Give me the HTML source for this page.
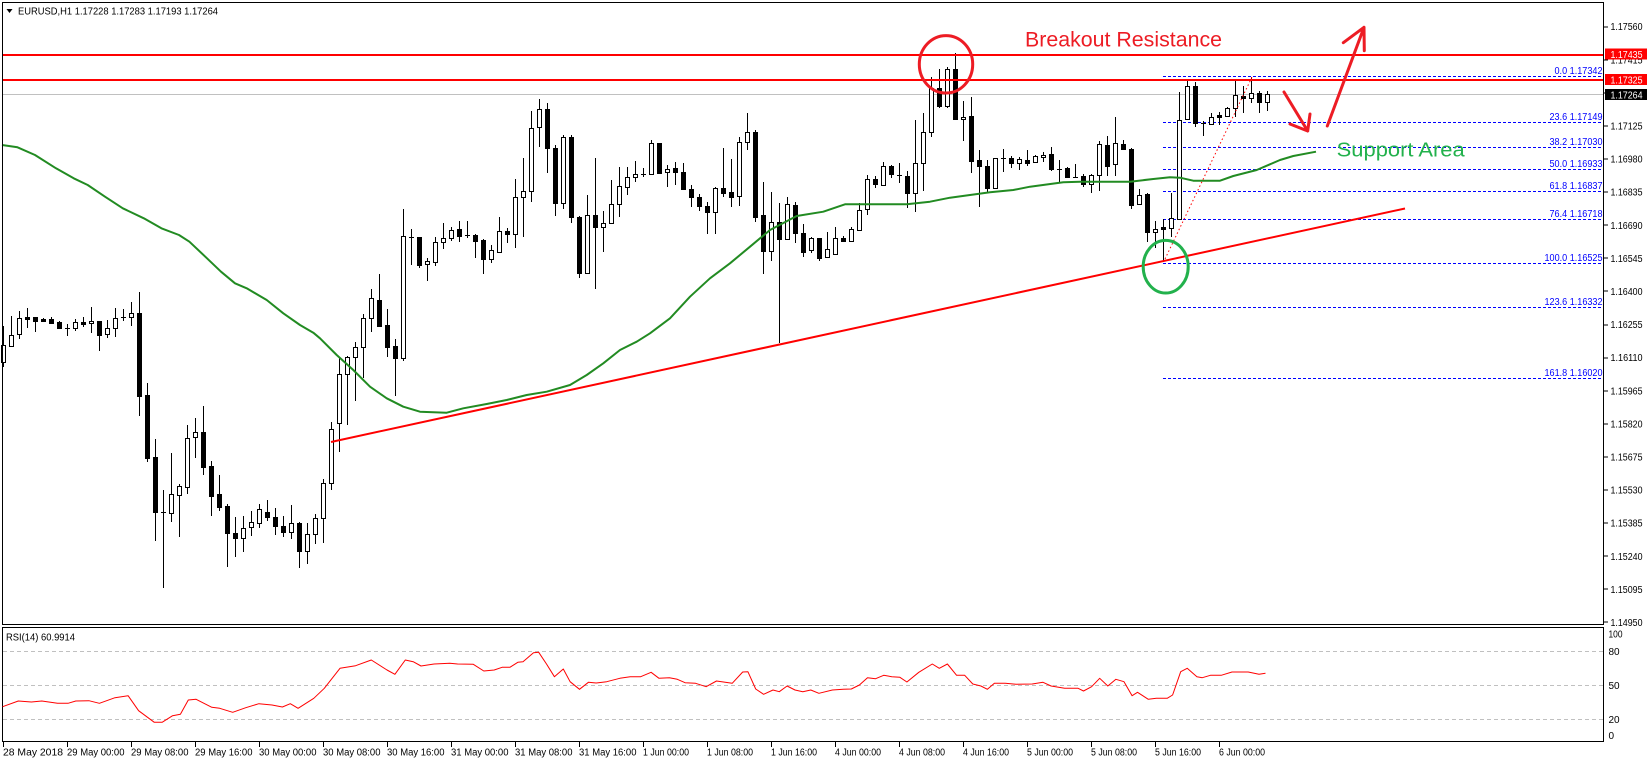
<!DOCTYPE html>
<html><head><meta charset="utf-8"><style>
html,body{margin:0;padding:0;background:#fff;}
svg{display:block;font-family:"Liberation Sans",sans-serif;}
</style></head><body>
<svg width="1647" height="763" viewBox="0 0 1647 763" xmlns="http://www.w3.org/2000/svg">
<rect x="0" y="0" width="1647" height="763" fill="#fff"/>
<!-- current price line -->
<line x1="2" y1="94.5" x2="1604" y2="94.5" stroke="#c0c0c0" stroke-width="1"/>
<!-- fib levels -->
<g stroke="#0000ff" stroke-width="1" stroke-dasharray="3,2">
<line x1="1163" y1="76.5" x2="1604" y2="76.5"/>
<line x1="1163" y1="122.5" x2="1604" y2="122.5"/>
<line x1="1163" y1="147.5" x2="1604" y2="147.5"/>
<line x1="1163" y1="169.5" x2="1604" y2="169.5"/>
<line x1="1163" y1="191.5" x2="1604" y2="191.5"/>
<line x1="1163" y1="219.5" x2="1604" y2="219.5"/>
<line x1="1163" y1="263.5" x2="1604" y2="263.5"/>
<line x1="1163" y1="307.5" x2="1604" y2="307.5"/>
<line x1="1163" y1="378.5" x2="1604" y2="378.5"/>
</g>
<g fill="#0000ff" font-size="10" text-anchor="end" lengthAdjust="spacingAndGlyphs">
<text x="1602.5" y="74" textLength="48" lengthAdjust="spacingAndGlyphs">0.0 1.17342</text>
<text x="1602.5" y="120" textLength="53" lengthAdjust="spacingAndGlyphs">23.6 1.17149</text>
<text x="1602.5" y="145" textLength="53" lengthAdjust="spacingAndGlyphs">38.2 1.17030</text>
<text x="1602.5" y="167" textLength="53" lengthAdjust="spacingAndGlyphs">50.0 1.16933</text>
<text x="1602.5" y="189" textLength="53" lengthAdjust="spacingAndGlyphs">61.8 1.16837</text>
<text x="1602.5" y="217" textLength="53" lengthAdjust="spacingAndGlyphs">76.4 1.16718</text>
<text x="1602.5" y="261" textLength="58" lengthAdjust="spacingAndGlyphs">100.0 1.16525</text>
<text x="1602.5" y="305" textLength="58" lengthAdjust="spacingAndGlyphs">123.6 1.16332</text>
<text x="1602.5" y="376" textLength="58" lengthAdjust="spacingAndGlyphs">161.8 1.16020</text>
</g>
<!-- candles -->
<g shape-rendering="crispEdges">
<path fill="none" stroke="#000" stroke-width="1" d="M3.5 326V367M11.5 316V347M19.5 311V339M27.5 308V328M35.5 317V332M43.5 318V322M51.5 317V323M59.5 321V329M67.5 324V336M75.5 319V331M83.5 317V327M91.5 307V333M99.5 321V351M107.5 320V338M115.5 308V337M123.5 309V321M131.5 302V326M139.5 292V416M147.5 383V462M155.5 439V541M163.5 490V588M171.5 453V522M179.5 484V537M187.5 425V494M195.5 418V458M203.5 406V475M211.5 461V516M219.5 475V511M227.5 504V567M235.5 517V557M243.5 516V552M251.5 511V536M259.5 504V528M267.5 500V521M275.5 508V535M283.5 516V537M291.5 505V539M299.5 522V568M307.5 523V564M315.5 514V544M323.5 479V543M331.5 422V490M339.5 357V452M347.5 356V425M355.5 342V401M363.5 314V378M371.5 289V332M379.5 274V327M387.5 309V357M395.5 339V396M403.5 209V361M411.5 229V265M419.5 237V268M427.5 258V281M435.5 237V266M443.5 223V249M451.5 227V241M459.5 221V242M467.5 221V238M475.5 234V258M483.5 239V274M491.5 245V263M499.5 217V253M507.5 228V243M515.5 179V248M523.5 158V237M531.5 111V202M539.5 99V147M547.5 103V173M555.5 145V216M563.5 135V209M571.5 135V223M579.5 216V278M587.5 195V273M595.5 158V289M603.5 211V252M611.5 180V223M619.5 167V217M627.5 167V195M635.5 161V182M643.5 168V177M651.5 140V175M659.5 143V174M667.5 165V187M675.5 162V185M683.5 163V190M691.5 185V207M699.5 194V211M707.5 202V234M715.5 187V234M723.5 148V197M731.5 159V207M739.5 137V206M747.5 113V150M755.5 130V222M763.5 182V274M771.5 192V261M779.5 203V343M787.5 197V240M795.5 202V243M803.5 224V257M811.5 237V253M819.5 238V261M827.5 232V258M835.5 227V255M843.5 236V242M851.5 227V242M859.5 203V231M867.5 175V215M875.5 176V188M883.5 162V186M891.5 165V178M899.5 163V183M907.5 171V208M915.5 120V212M923.5 113V191M931.5 77V137M939.5 69V108M947.5 67V108M955.5 53V119M963.5 101V141M971.5 97V173M979.5 150V207M987.5 160V192M995.5 158V189M1003.5 149V172M1011.5 156V168M1019.5 157V170M1027.5 150V166M1035.5 155V163M1043.5 152V162M1051.5 147V171M1059.5 160V182M1067.5 167V178M1075.5 164V178M1083.5 174V187M1091.5 174V193M1099.5 141V191M1107.5 136V176M1115.5 117V176M1123.5 140V150M1131.5 148V209M1139.5 189V205M1147.5 193V242M1155.5 221V248M1163.5 219V262M1171.5 193V237M1179.5 92V220M1187.5 81V120M1195.5 82V127M1203.5 121V136M1211.5 113V125M1219.5 112V125M1227.5 107V117M1235.5 81V117M1243.5 86V113M1251.5 77V103M1259.5 91V113M1267.5 91V111"/>
<path fill="#fff" stroke="#000" stroke-width="1" d="M1.5 345.5h4V362.5h-4ZM9.5 335.5h4V346.5h-4ZM17.5 318.5h4V334.5h-4ZM73.5 322.5h4V328.5h-4ZM89.5 321.5h4V323.5h-4ZM105.5 328.5h4V334.5h-4ZM113.5 318.5h4V328.5h-4ZM129.5 313.5h4V317.5h-4ZM169.5 494.5h4V513.5h-4ZM177.5 486.5h4V495.5h-4ZM185.5 438.5h4V487.5h-4ZM193.5 432.5h4V437.5h-4ZM241.5 528.5h4V538.5h-4ZM249.5 522.5h4V527.5h-4ZM257.5 509.5h4V523.5h-4ZM289.5 523.5h4V532.5h-4ZM305.5 534.5h4V551.5h-4ZM313.5 518.5h4V534.5h-4ZM321.5 483.5h4V518.5h-4ZM329.5 429.5h4V483.5h-4ZM337.5 374.5h4V423.5h-4ZM345.5 357.5h4V374.5h-4ZM353.5 347.5h4V357.5h-4ZM361.5 318.5h4V347.5h-4ZM369.5 298.5h4V318.5h-4ZM401.5 236.5h4V358.5h-4ZM425.5 261.5h4V264.5h-4ZM433.5 242.5h4V262.5h-4ZM441.5 238.5h4V242.5h-4ZM449.5 230.5h4V238.5h-4ZM489.5 250.5h4V259.5h-4ZM497.5 231.5h4V252.5h-4ZM513.5 197.5h4V234.5h-4ZM521.5 191.5h4V197.5h-4ZM529.5 128.5h4V191.5h-4ZM537.5 109.5h4V127.5h-4ZM561.5 137.5h4V203.5h-4ZM585.5 215.5h4V273.5h-4ZM601.5 223.5h4V227.5h-4ZM609.5 204.5h4V223.5h-4ZM617.5 186.5h4V204.5h-4ZM625.5 177.5h4V187.5h-4ZM633.5 174.5h4V177.5h-4ZM649.5 143.5h4V174.5h-4ZM665.5 169.5h4V172.5h-4ZM713.5 188.5h4V212.5h-4ZM737.5 142.5h4V196.5h-4ZM745.5 132.5h4V142.5h-4ZM769.5 222.5h4V251.5h-4ZM785.5 204.5h4V239.5h-4ZM809.5 238.5h4V250.5h-4ZM825.5 249.5h4V257.5h-4ZM833.5 238.5h4V254.5h-4ZM849.5 229.5h4V241.5h-4ZM857.5 210.5h4V230.5h-4ZM865.5 179.5h4V209.5h-4ZM881.5 166.5h4V185.5h-4ZM913.5 163.5h4V193.5h-4ZM921.5 132.5h4V163.5h-4ZM929.5 88.5h4V132.5h-4ZM945.5 69.5h4V106.5h-4ZM961.5 117.5h4V119.5h-4ZM993.5 158.5h4V188.5h-4ZM1017.5 159.5h4V163.5h-4ZM1033.5 156.5h4V162.5h-4ZM1041.5 155.5h4V157.5h-4ZM1089.5 175.5h4V184.5h-4ZM1097.5 144.5h4V175.5h-4ZM1113.5 143.5h4V164.5h-4ZM1137.5 195.5h4V204.5h-4ZM1153.5 229.5h4V232.5h-4ZM1169.5 218.5h4V228.5h-4ZM1177.5 120.5h4V219.5h-4ZM1185.5 86.5h4V119.5h-4ZM1209.5 117.5h4V124.5h-4ZM1225.5 108.5h4V116.5h-4ZM1233.5 95.5h4V108.5h-4ZM1249.5 93.5h4V98.5h-4ZM1265.5 94.5h4V102.5h-4Z"/>
<path fill="#000" stroke="#000" stroke-width="1" d="M25.5 317.5h4V319.5h-4ZM33.5 317.5h4V321.5h-4ZM41.5 319.5h4V321.5h-4ZM49.5 319.5h4V323.5h-4ZM57.5 322.5h4V328.5h-4ZM81.5 322.5h4V324.5h-4ZM97.5 321.5h4V335.5h-4ZM137.5 313.5h4V396.5h-4ZM145.5 395.5h4V458.5h-4ZM153.5 457.5h4V512.5h-4ZM201.5 432.5h4V467.5h-4ZM209.5 466.5h4V496.5h-4ZM217.5 494.5h4V507.5h-4ZM225.5 506.5h4V533.5h-4ZM233.5 533.5h4V538.5h-4ZM265.5 512.5h4V517.5h-4ZM273.5 517.5h4V526.5h-4ZM281.5 526.5h4V532.5h-4ZM297.5 523.5h4V551.5h-4ZM377.5 300.5h4V326.5h-4ZM385.5 325.5h4V347.5h-4ZM393.5 346.5h4V358.5h-4ZM417.5 237.5h4V265.5h-4ZM457.5 229.5h4V236.5h-4ZM473.5 235.5h4V241.5h-4ZM481.5 240.5h4V259.5h-4ZM505.5 231.5h4V234.5h-4ZM545.5 109.5h4V148.5h-4ZM553.5 148.5h4V203.5h-4ZM569.5 137.5h4V217.5h-4ZM577.5 217.5h4V273.5h-4ZM593.5 215.5h4V227.5h-4ZM657.5 143.5h4V173.5h-4ZM673.5 168.5h4V172.5h-4ZM681.5 172.5h4V189.5h-4ZM689.5 189.5h4V197.5h-4ZM697.5 197.5h4V206.5h-4ZM705.5 206.5h4V212.5h-4ZM721.5 188.5h4V193.5h-4ZM729.5 192.5h4V197.5h-4ZM753.5 132.5h4V217.5h-4ZM761.5 215.5h4V251.5h-4ZM777.5 222.5h4V239.5h-4ZM793.5 205.5h4V233.5h-4ZM801.5 233.5h4V252.5h-4ZM817.5 238.5h4V258.5h-4ZM841.5 238.5h4V241.5h-4ZM873.5 179.5h4V184.5h-4ZM889.5 166.5h4V174.5h-4ZM905.5 176.5h4V193.5h-4ZM937.5 88.5h4V106.5h-4ZM953.5 69.5h4V119.5h-4ZM969.5 116.5h4V161.5h-4ZM977.5 160.5h4V166.5h-4ZM985.5 166.5h4V188.5h-4ZM1009.5 158.5h4V163.5h-4ZM1025.5 160.5h4V163.5h-4ZM1049.5 154.5h4V169.5h-4ZM1065.5 168.5h4V177.5h-4ZM1081.5 176.5h4V184.5h-4ZM1105.5 145.5h4V166.5h-4ZM1121.5 144.5h4V149.5h-4ZM1129.5 149.5h4V205.5h-4ZM1145.5 194.5h4V232.5h-4ZM1161.5 227.5h4V229.5h-4ZM1193.5 86.5h4V123.5h-4ZM1217.5 115.5h4V117.5h-4ZM1241.5 96.5h4V98.5h-4ZM1257.5 93.5h4V102.5h-4Z"/>
<path fill="none" stroke="#000" stroke-width="1" d="M65 328.5h5M121 317.5h5M161 512.5h5M409 237.5h5M465 235.5h5M641 174.5h5M897 175.5h5M1001 158.5h5M1057 169.5h5M1073 177.5h5M1201 123.5h5"/>
</g>
<!-- moving average -->
<polyline fill="none" stroke="#228b22" stroke-width="2" stroke-linejoin="round" points="2,145 17.5,147.3 35,155 56,168.3 73.7,178.3 87.7,185 105,196.7 122.8,208.3 143.8,218.3 161.4,228.3 179,235 189.4,241.7 207,258.3 221,271.7 235,283.3 246.7,288.3 266.7,300 283.3,313.3 300,325 313.3,332.7 320,338.3 336.7,355 353.3,370 370,386.7 386.7,398.3 403.3,406.7 420,411.7 446.7,412.7 463.3,408.3 486.7,404 506.7,400 526.7,395 546.7,391.7 570,385 586.7,375 603.3,363.3 620,350 636.7,341.7 650,333.3 670,318.3 690,296.7 710,278.3 730,263.3 750,246.7 770,230 796.7,216 823.3,211.7 845,204.3 906.7,204.3 930,201.7 950,197.7 970,195 990,192.3 1013.3,190 1030,186.7 1063.3,182.3 1080,181.7 1130,181.7 1153.3,179 1170,177.3 1180,177.7 1193.3,180.7 1220,180.7 1233.3,176 1256.7,170 1280,160 1293.3,156 1316,151.7"/>
<!-- trend line -->
<line x1="331" y1="442" x2="1405" y2="208.5" stroke="#ff0000" stroke-width="2"/>
<!-- dotted fib base -->
<line x1="1165" y1="259" x2="1252" y2="77" stroke="#ff0000" stroke-width="1" stroke-dasharray="1.5,2.5"/>
<!-- horizontal resistance lines -->
<line x1="2" y1="55" x2="1604" y2="55" stroke="#ff0000" stroke-width="2"/>
<line x1="2" y1="80" x2="1604" y2="80" stroke="#ff0000" stroke-width="2"/>
<!-- annotations -->
<ellipse cx="946" cy="64.3" rx="26.7" ry="28.7" fill="none" stroke="#ed1c24" stroke-width="3"/>
<ellipse cx="1165.7" cy="266.7" rx="22.5" ry="26.3" fill="none" stroke="#22b14c" stroke-width="3"/>
<g stroke="#ed1c24" stroke-width="3" fill="none" stroke-linecap="round" stroke-linejoin="round">
<path d="M1284 92L1307.7 131M1290 124L1307.7 131L1310 114"/>
<path d="M1327.3 126L1364 27.3M1343.3 42.7L1364 27.3L1364.3 50.7"/>
</g>
<text x="1025" y="46.7" font-size="21" fill="#ed1c24" textLength="197" lengthAdjust="spacingAndGlyphs">Breakout Resistance</text>
<text x="1336.7" y="156.7" font-size="20" fill="#22b14c" textLength="128" lengthAdjust="spacingAndGlyphs">Support Area</text>
<!-- title -->
<polygon points="6.5,9 12.5,9 9.5,13" fill="#000"/>
<text x="18" y="14.3" font-size="10" fill="#000" textLength="200" lengthAdjust="spacingAndGlyphs">EURUSD,H1  1.17228 1.17283 1.17193 1.17264</text>
<!-- frames -->
<rect x="2.5" y="2.5" width="1601" height="622" fill="none" stroke="#000" stroke-width="1"/>
<rect x="2.5" y="627.5" width="1601" height="114" fill="none" stroke="#000" stroke-width="1"/>
<!-- price axis ticks -->
<g stroke="#000" stroke-width="1">
<path d="M1604 27h4M1604 60h4M1604 93h4M1604 126h4M1604 159h4M1604 192h4M1604 225h4M1604 258h4M1604 291h4M1604 325h4M1604 358h4M1604 391h4M1604 424h4M1604 457h4M1604 490h4M1604 523h4M1604 556h4M1604 589h4M1604 622h4"/>
</g>
<g font-size="10" fill="#000">
<text x="1610.5" y="30.2" textLength="32" lengthAdjust="spacingAndGlyphs">1.17560</text>
<text x="1610.5" y="63.3" textLength="32" lengthAdjust="spacingAndGlyphs">1.17415</text>
<text x="1610.5" y="96.4" textLength="32" lengthAdjust="spacingAndGlyphs">1.17270</text>
<text x="1610.5" y="129.5" textLength="32" lengthAdjust="spacingAndGlyphs">1.17125</text>
<text x="1610.5" y="162.6" textLength="32" lengthAdjust="spacingAndGlyphs">1.16980</text>
<text x="1610.5" y="195.7" textLength="32" lengthAdjust="spacingAndGlyphs">1.16835</text>
<text x="1610.5" y="228.8" textLength="32" lengthAdjust="spacingAndGlyphs">1.16690</text>
<text x="1610.5" y="261.9" textLength="32" lengthAdjust="spacingAndGlyphs">1.16545</text>
<text x="1610.5" y="295" textLength="32" lengthAdjust="spacingAndGlyphs">1.16400</text>
<text x="1610.5" y="328.1" textLength="32" lengthAdjust="spacingAndGlyphs">1.16255</text>
<text x="1610.5" y="361.2" textLength="32" lengthAdjust="spacingAndGlyphs">1.16110</text>
<text x="1610.5" y="394.3" textLength="32" lengthAdjust="spacingAndGlyphs">1.15965</text>
<text x="1610.5" y="427.4" textLength="32" lengthAdjust="spacingAndGlyphs">1.15820</text>
<text x="1610.5" y="460.5" textLength="32" lengthAdjust="spacingAndGlyphs">1.15675</text>
<text x="1610.5" y="493.6" textLength="32" lengthAdjust="spacingAndGlyphs">1.15530</text>
<text x="1610.5" y="526.7" textLength="32" lengthAdjust="spacingAndGlyphs">1.15385</text>
<text x="1610.5" y="559.8" textLength="32" lengthAdjust="spacingAndGlyphs">1.15240</text>
<text x="1610.5" y="592.9" textLength="32" lengthAdjust="spacingAndGlyphs">1.15095</text>
<text x="1610.5" y="626" textLength="32" lengthAdjust="spacingAndGlyphs">1.14950</text>
</g>
<!-- price boxes -->
<rect x="1605" y="48.5" width="42" height="11" fill="#ff0000"/>
<text x="1610.5" y="57.8" font-size="10" fill="#fff" textLength="32" lengthAdjust="spacingAndGlyphs">1.17435</text>
<rect x="1605" y="74" width="42" height="11" fill="#ff0000"/>
<text x="1610.5" y="83.3" font-size="10" fill="#fff" textLength="32" lengthAdjust="spacingAndGlyphs">1.17325</text>
<rect x="1605" y="89" width="42" height="11" fill="#000"/>
<text x="1610.5" y="98.3" font-size="10" fill="#fff" textLength="32" lengthAdjust="spacingAndGlyphs">1.17264</text>
<!-- RSI panel -->
<g stroke="#c0c0c0" stroke-width="1" stroke-dasharray="4,3">
<line x1="3" y1="651.5" x2="1603" y2="651.5"/>
<line x1="3" y1="685.5" x2="1603" y2="685.5"/>
<line x1="3" y1="719.5" x2="1603" y2="719.5"/>
</g>
<polyline fill="none" stroke="#ff0000" stroke-width="1" stroke-linejoin="round" points="2.6,706.7 18.3,701 31.4,702 41.8,701 57.5,703.3 68,703.3 75.8,701 88.9,700.7 99.4,703.3 115,697.7 128.1,695.7 138.6,710.7 154.3,722.3 162.1,722.3 172.6,715.7 180.4,714.3 188.3,700 196.1,699.3 211.8,707.3 219.7,708.3 232.7,712.3 245.8,707.7 258.9,703.7 272,705 282.4,707 290.3,703.7 298.1,708.3 313.8,698.3 324.3,688.3 340,668.3 355.6,665.7 371.3,660 387,670 394.9,674.3 405.3,660 413.2,661.7 421,666 434.1,664 449.8,663.3 457.6,664 473.3,664.3 483.8,671 494.2,670 502.1,667.3 509.9,667.3 517.8,662.3 523,661.7 533.5,652.7 538.7,652.3 546.5,664 554.4,676.7 563.3,669 570.1,681.7 579.5,689.3 588.4,682.3 596.2,683 606.7,681.7 619.8,678.3 630.2,676.7 640.7,676.7 651.1,672.3 659,678.3 669.4,677.7 677.3,679.3 685.1,682.7 695.6,683.3 706.1,686.7 716.5,681 732.2,683.3 742.7,672 747.9,671.7 755.7,689 763.6,694.3 773,690 779.3,691.7 787.1,686 795,690 802.8,691.7 810.8,690 818.9,693.3 832.4,690 843.2,689.3 851.3,689 859.4,685 867.5,677.7 875.6,678.7 883.7,675.3 891.8,676.7 899.9,677.3 906.9,682 918.8,672.3 932.3,664 939.3,668.3 947.4,664 956.6,675.3 964.7,675.3 972.8,684 980.9,686 987.4,689.3 994.4,683.3 1005.2,683.3 1016,684.3 1032.2,684 1043,682.3 1051.1,686 1064.6,688.3 1078.1,688.3 1083.5,691 1091.6,686.7 1099.7,678.3 1107.8,686 1115.9,679.3 1124,681.7 1132.1,695.7 1137.5,692.3 1148.3,699.3 1156.4,698.3 1167.2,698.3 1172.6,695 1180.7,671.7 1187.2,668.3 1196.9,676.7 1202.3,677.7 1210.4,675.3 1221.2,675.3 1232,672 1248.2,672 1259,674.3 1265.5,673.3"/>
<text x="6" y="640.5" font-size="10" fill="#000" textLength="69" lengthAdjust="spacingAndGlyphs">RSI(14) 60.9914</text>
<g font-size="10" fill="#000">
<text x="1608.5" y="637.5" textLength="14" lengthAdjust="spacingAndGlyphs">100</text>
<text x="1608.5" y="655.2">80</text>
<text x="1608.5" y="689.2">50</text>
<text x="1608.5" y="722.8">20</text>
<text x="1608.5" y="739.2">0</text>
</g>
<!-- time axis -->
<path stroke="#000" stroke-width="1" d="M3.5 742v5M67.5 742v5M131.5 742v5M195.5 742v5M259.5 742v5M323.5 742v5M387.5 742v5M451.5 742v5M515.5 742v5M579.5 742v5M643.5 742v5M707.5 742v5M771.5 742v5M835.5 742v5M899.5 742v5M963.5 742v5M1027.5 742v5M1091.5 742v5M1155.5 742v5M1219.5 742v5"/>
<g font-size="10" fill="#000">
<text x="3" y="755.5" textLength="60" lengthAdjust="spacingAndGlyphs">28 May 2018</text>
<text x="67" y="755.5" textLength="57.5" lengthAdjust="spacingAndGlyphs">29 May 00:00</text>
<text x="131" y="755.5" textLength="57.5" lengthAdjust="spacingAndGlyphs">29 May 08:00</text>
<text x="195" y="755.5" textLength="57.5" lengthAdjust="spacingAndGlyphs">29 May 16:00</text>
<text x="259" y="755.5" textLength="57.5" lengthAdjust="spacingAndGlyphs">30 May 00:00</text>
<text x="323" y="755.5" textLength="57.5" lengthAdjust="spacingAndGlyphs">30 May 08:00</text>
<text x="387" y="755.5" textLength="57.5" lengthAdjust="spacingAndGlyphs">30 May 16:00</text>
<text x="451" y="755.5" textLength="57.5" lengthAdjust="spacingAndGlyphs">31 May 00:00</text>
<text x="515" y="755.5" textLength="57.5" lengthAdjust="spacingAndGlyphs">31 May 08:00</text>
<text x="579" y="755.5" textLength="57.5" lengthAdjust="spacingAndGlyphs">31 May 16:00</text>
<text x="643" y="755.5" textLength="46" lengthAdjust="spacingAndGlyphs">1 Jun 00:00</text>
<text x="707" y="755.5" textLength="46" lengthAdjust="spacingAndGlyphs">1 Jun 08:00</text>
<text x="771" y="755.5" textLength="46" lengthAdjust="spacingAndGlyphs">1 Jun 16:00</text>
<text x="835" y="755.5" textLength="46" lengthAdjust="spacingAndGlyphs">4 Jun 00:00</text>
<text x="899" y="755.5" textLength="46" lengthAdjust="spacingAndGlyphs">4 Jun 08:00</text>
<text x="963" y="755.5" textLength="46" lengthAdjust="spacingAndGlyphs">4 Jun 16:00</text>
<text x="1027" y="755.5" textLength="46" lengthAdjust="spacingAndGlyphs">5 Jun 00:00</text>
<text x="1091" y="755.5" textLength="46" lengthAdjust="spacingAndGlyphs">5 Jun 08:00</text>
<text x="1155" y="755.5" textLength="46" lengthAdjust="spacingAndGlyphs">5 Jun 16:00</text>
<text x="1219" y="755.5" textLength="46" lengthAdjust="spacingAndGlyphs">6 Jun 00:00</text>
</g>
</svg>
</body></html>
